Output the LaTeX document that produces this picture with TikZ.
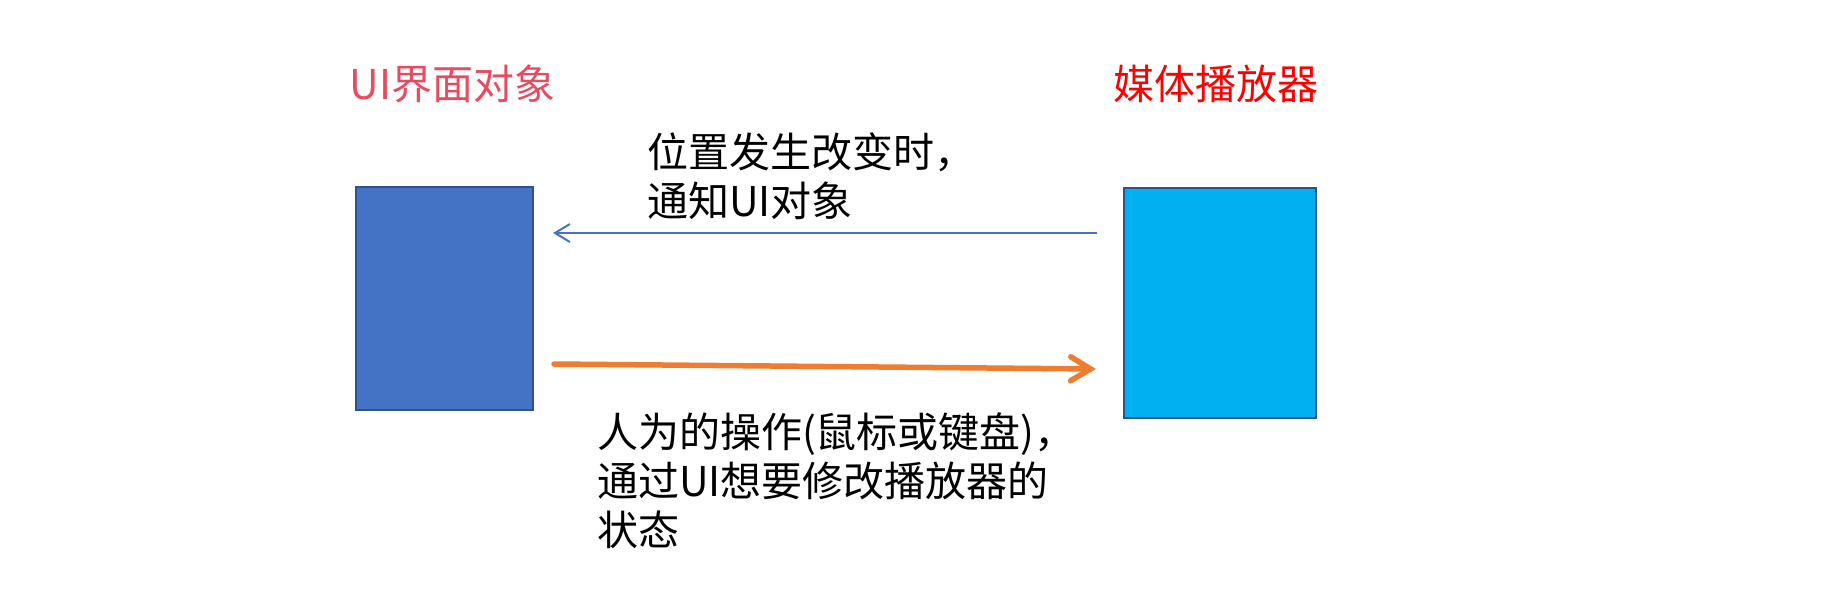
\documentclass[tikz,border=0pt]{standalone}
\usepackage{fontspec}
\newfontfamily\cjk{Noto Sans CJK SC}
\usetikzlibrary{arrows.meta}
\definecolor{boxblue}{HTML}{4472C4}
\definecolor{boxcyan}{HTML}{00B0F0}
\definecolor{boxedge}{HTML}{2F528F}
\definecolor{arrowblue}{HTML}{4472C4}
\definecolor{arroworange}{HTML}{ED7D31}
\definecolor{titlepink}{HTML}{E84A5F}
\definecolor{titlered}{HTML}{FF0000}
\tikzset{
  objbox/.style={draw=boxedge, line width=1.5pt, inner sep=0pt, outer sep=0pt},
  txt/.style={inner sep=0pt, outer sep=0pt, font=\cjk\fontsize{41}{49}\selectfont},
  notify/.style={draw=arrowblue, line width=2pt, -{Straight Barb[length=15pt,width=18pt]}},
  userop/.style={draw=arroworange, line width=5.5pt, line cap=round, -{Straight Barb[length=20pt,width=24pt,line cap=round]}}
}
\begin{document}
\begin{tikzpicture}[x=1pt,y=-1pt]
\useasboundingbox (0,0) rectangle (1836,608);
% boxes
\node[objbox, fill=boxblue, minimum width=177pt, minimum height=223pt] (L) at (444.5,298.5) {};
\node[objbox, fill=boxcyan, minimum width=192pt, minimum height=230pt] (R) at (1220,303) {};
% titles
\node[txt, text=titlepink, anchor=base] (tL) at (452.5,99) {UI界面对象};
\node[txt, text=titlered, anchor=base] (tR) at (1215.5,99) {媒体播放器};
% upper label
\node[txt, anchor=base west] (a1) at (647,167) {位置发生改变时，};
\node[txt, anchor=base west] (a2) at (647,216) {通知UI对象};
% lower label
\node[txt, anchor=base west] (b1) at (597,447) {人为的操作(鼠标或键盘)，};
\node[txt, anchor=base west] (b2) at (597,496) {通过UI想要修改播放器的};
\node[txt, anchor=base west] (b3) at (597,545) {状态};
% connector end points
\coordinate (ns) at ([xshift=-27pt]R.west |- 0,233);
\coordinate (ne) at ([xshift=20pt]L.east |- 0,233);
\coordinate (us) at ([xshift=21pt]L.east |- 0,364);
\coordinate (ue) at ([xshift=-28pt]R.west |- 0,369);
\draw[notify] (ns) -- (ne);
\draw[userop] (us) -- (ue);
\end{tikzpicture}
\end{document}
